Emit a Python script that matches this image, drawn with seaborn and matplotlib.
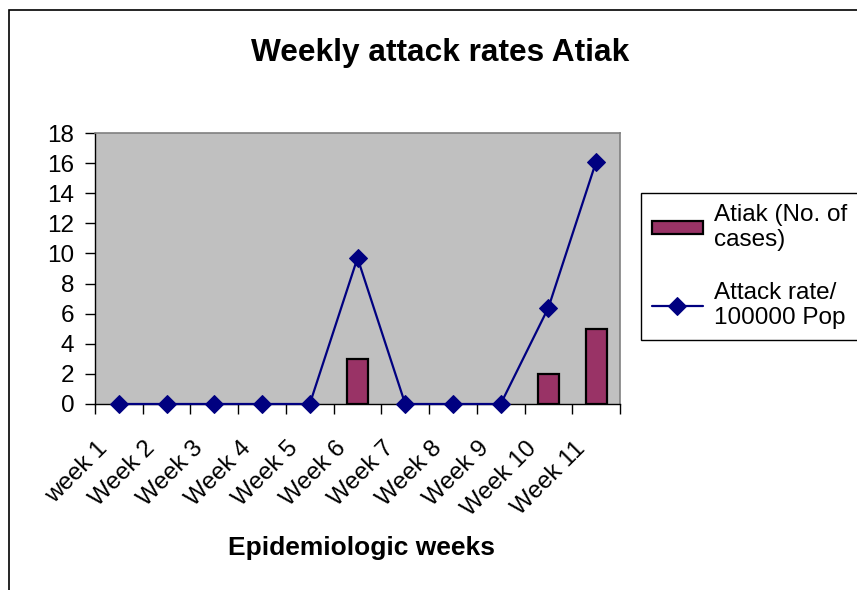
import numpy as np
import pandas as pd
import matplotlib
matplotlib.use("Agg")
import matplotlib.pyplot as plt
import matplotlib.patches as mpatches
import seaborn as sns

weeks = ["week 1", "Week 2", "Week 3", "Week 4", "Week 5", "Week 6",
         "Week 7", "Week 8", "Week 9", "Week 10", "Week 11"]
cases = [0, 0, 0, 0, 0, 3, 0, 0, 0, 2, 5]
attack_rate = [0, 0, 0, 0, 0, 9.7, 0, 0, 0, 6.4, 16.1]
y_ticks = list(range(0, 19, 2))

df = pd.DataFrame({"week": weeks, "cases": cases, "rate": attack_rate})
df["pos"] = np.arange(len(df))

sns.set_theme(style="white", rc={"text.color": "black",
                                 "xtick.color": "black",
                                 "ytick.color": "black",
                                 "axes.labelcolor": "black"})
plt.rcParams["font.family"] = ["Liberation Sans", "DejaVu Sans"]

fig = plt.figure(figsize=(8.57, 5.9), dpi=100)
ax = fig.add_axes([95 / 857, 1 - 404 / 590, 525 / 857, 271 / 590])
ax.set_facecolor("#C0C0C0")

sns.barplot(data=df, x="week", y="cases", color="#993366", saturation=1,
            width=0.44, edgecolor="black", linewidth=1.6,
            label="Atiak (No. of\ncases)", ax=ax)
sns.lineplot(data=df, x="pos", y="rate", color="#000080", linewidth=1.6,
             marker="D", markersize=9, markeredgecolor="#000080",
             label="Attack rate/\n100000 Pop", ax=ax, zorder=5, clip_on=False)

ax.set_xlim(-0.5, len(weeks) - 0.5)
ax.set_ylim(0, 18)
ax.set_yticks(y_ticks)
ax.set_yticklabels([str(v) for v in y_ticks], fontsize=17.5)
ax.set_xticks(np.arange(-0.5, len(weeks), 1))
ax.set_xticklabels([])
# labels sit left of the category centre, like the original
ax.set_xticks(df["pos"] - 0.47, minor=True)
ax.set_xticklabels(weeks, minor=True, rotation=45, ha="right", va="top",
                   rotation_mode="anchor", fontsize=17.5)
ax.tick_params(axis="x", which="major", direction="out", length=7,
               width=1, color="black", bottom=True)
ax.tick_params(axis="x", which="minor", length=0, pad=24, bottom=True)
ax.tick_params(axis="y", direction="out", length=7, width=1,
               color="black", left=True, pad=8)

for side in ["top", "right"]:
    ax.spines[side].set_color("#808080")
    ax.spines[side].set_linewidth(1.2)
for side in ["left", "bottom"]:
    ax.spines[side].set_color("black")
    ax.spines[side].set_linewidth(1)

ax.set_xlabel("")
ax.set_ylabel("")
fig.text(361 / 857, 1 - 548 / 590, "Epidemiologic weeks", fontsize=19,
         fontweight="bold", ha="center", va="center")
fig.text(440 / 857, 1 - 53 / 590, "Weekly attack rates Atiak", fontsize=22.8,
         fontweight="bold", ha="center", va="center")

handles, labels = ax.get_legend_handles_labels()
order = [labels.index("Atiak (No. of\ncases)"),
         labels.index("Attack rate/\n100000 Pop")]
leg = ax.legend([handles[i] for i in order], [labels[i] for i in order],
                loc="upper left", bbox_to_anchor=(641 / 857, 1 - 193 / 590),
                bbox_transform=fig.transFigure, fontsize=17.5, frameon=True,
                fancybox=False, edgecolor="black", framealpha=1,
                handlelength=2.1, handleheight=0.5, handletextpad=0.45,
                borderaxespad=0, borderpad=0.45, labelspacing=1.25)
leg.get_frame().set_linewidth(1)

# no outline for empty weeks (after the legend copied the bar style)
for p in ax.patches:
    if p.get_height() == 0:
        p.set_linewidth(0)

border = mpatches.Rectangle((9 / 857, -0.1), 1.2, 1 - 10 / 590 + 0.1,
                            transform=fig.transFigure, fill=False,
                            edgecolor="black", linewidth=1.2, clip_on=False)
fig.patches.append(border)

fig.savefig("out.png", dpi=100)
